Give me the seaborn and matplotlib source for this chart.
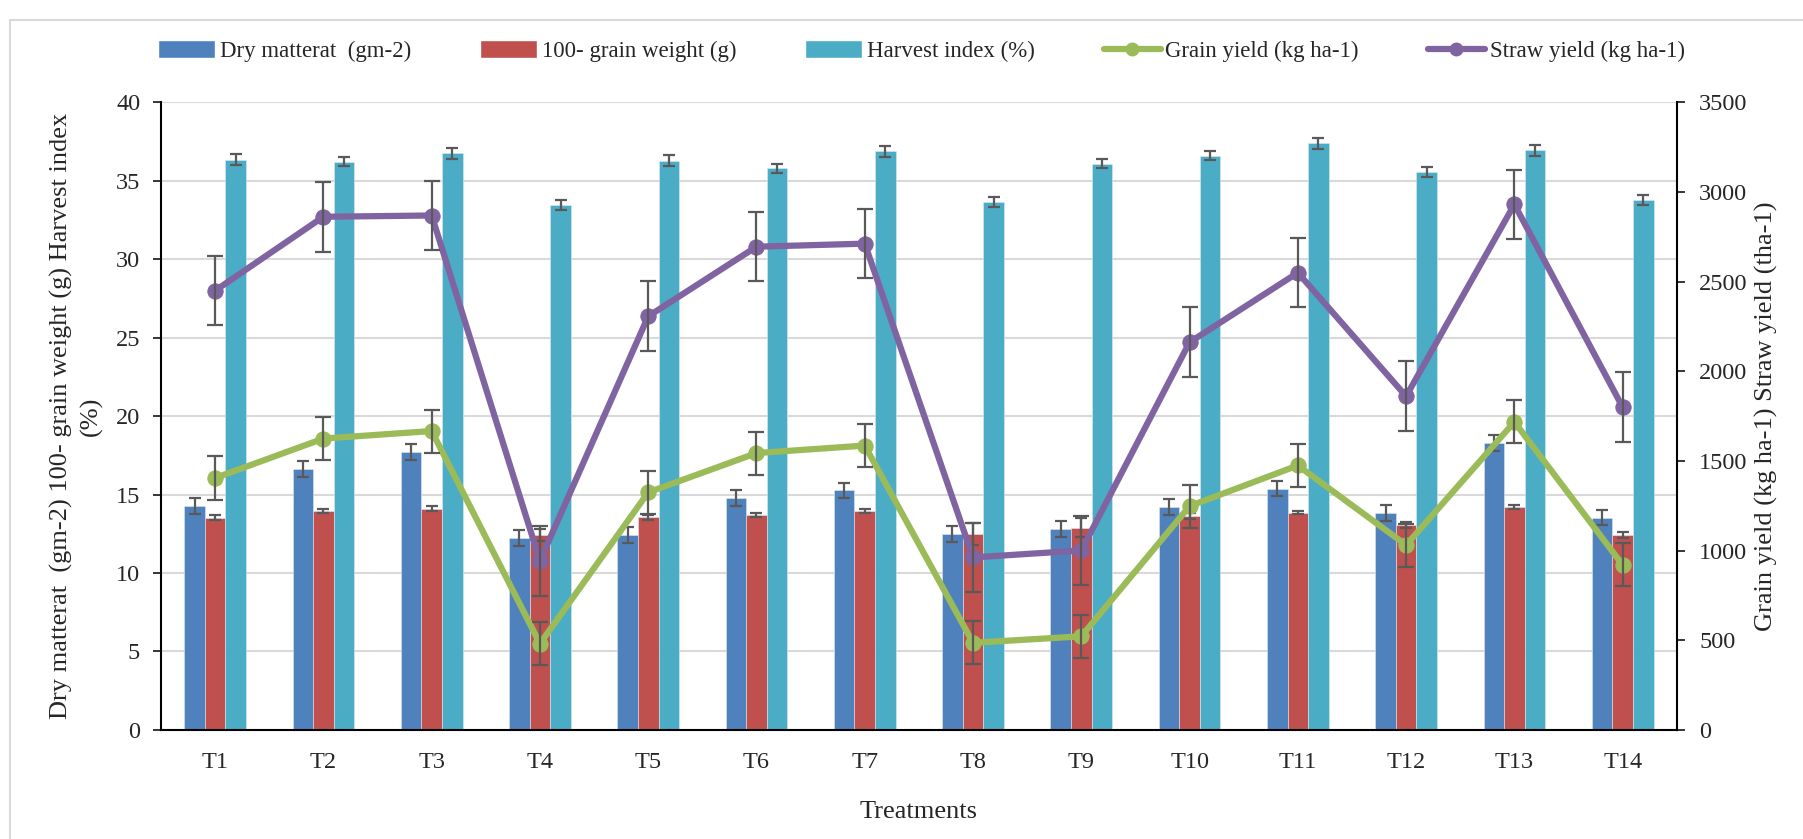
import numpy as np
import pandas as pd
import matplotlib
matplotlib.use("Agg")
import matplotlib.pyplot as plt
import seaborn as sns
from matplotlib.patches import Patch, Rectangle
from matplotlib.lines import Line2D

# values
treatments = ["T1", "T2", "T3", "T4", "T5", "T6", "T7",
              "T8", "T9", "T10", "T11", "T12", "T13", "T14"]
dry_matter = [14.27, 16.64, 17.73, 12.23, 12.42, 14.8, 15.27,
              12.5, 12.81, 14.21, 15.38, 13.82, 18.28, 13.53]
dry_matter_err = [0.5] * 14
grain_weight = [13.53, 13.95, 14.11, 12.42, 13.55, 13.69, 13.95,
                12.5, 12.89, 13.63, 13.84, 13.08, 14.21, 12.42]
grain_weight_err = [0.15, 0.15, 0.15, 0.4, 0.15, 0.15, 0.12,
                    0.7, 0.6, 0.2, 0.1, 0.2, 0.15, 0.2]
harvest_index = [36.35, 36.22, 36.75, 33.47, 36.27, 35.8, 36.88,
                 33.66, 36.1, 36.6, 37.38, 35.56, 36.94, 33.77]
harvest_index_err = [0.35, 0.3, 0.35, 0.3, 0.35, 0.3, 0.35,
                     0.3, 0.3, 0.3, 0.35, 0.3, 0.35, 0.3]
grain_yield = [1405, 1625, 1667, 481, 1325, 1544, 1586,
               486, 522, 1248, 1475, 1031, 1718, 920]
grain_yield_err = [120] * 14
straw_yield = [2450, 2862, 2869, 943, 2307, 2695, 2712,
               962, 1001, 2162, 2550, 1861, 2931, 1800]
straw_yield_err = [194] * 14

bar_names = ["Dry matterat  (gm-2)", "100- grain weight (g)", "Harvest index (%)"]
line_names = ["Grain yield (kg ha-1)", "Straw yield (kg ha-1)"]
colors = ["#4F81BD", "#C0504D", "#4BACC6"]
green, purple = "#9BBB59", "#8064A2"
err_color = "#595959"

df = pd.DataFrame({"Treatment": treatments,
                   bar_names[0]: dry_matter,
                   bar_names[1]: grain_weight,
                   bar_names[2]: harvest_index})
long_df = df.melt(id_vars="Treatment", var_name="variable", value_name="value")

sns.set_style("white")
plt.rcParams["font.family"] = ["Liberation Serif", "DejaVu Serif"]
fs_tick = 17.5
fs_title = 19
fs_leg = 16.5

fig = plt.figure(figsize=(18.03, 8.39), dpi=100)
ax = fig.add_axes([0.0893, 0.130, 0.8407, 0.748])

# outer chart frame
fig.patches.append(Rectangle((0.0055, -0.1), 1.2, 0.1 + 0.976, transform=fig.transFigure,
                             fill=False, edgecolor="#D9D9D9", linewidth=1.5))

sns.barplot(data=long_df, x="Treatment", y="value", hue="variable",
            hue_order=bar_names, palette=colors, errorbar=None, width=0.57,
            saturation=1, ax=ax, legend=False, edgecolor="#dfe8f2", linewidth=0.4)

for cont, errs in zip(ax.containers, [dry_matter_err, grain_weight_err, harvest_index_err]):
    xs = [p.get_x() + p.get_width() / 2 for p in cont]
    ys = [p.get_height() for p in cont]
    ax.errorbar(xs, ys, yerr=errs, fmt="none", ecolor=err_color,
                capsize=4.5, elinewidth=1.6, capthick=1.6, zorder=3)

ax.set_ylim(0, 40)
ax.set_yticks(np.arange(0, 41, 5))
ax.set_xlim(-0.5, 13.5)
ax.set_axisbelow(True)
ax.yaxis.grid(True, color="#D9D9D9", linewidth=1.5)
ax.set_xticks(np.arange(-0.5, 14, 1), minor=True)
ax.tick_params(axis="x", which="major", length=0, pad=16, labelsize=fs_tick)
ax.tick_params(axis="x", which="minor", length=5.5, width=1.5, direction="out")
ax.tick_params(axis="y", length=6, width=1.3, direction="out", labelsize=fs_tick, pad=9)
ax.set_xlabel("Treatments", fontsize=fs_title, labelpad=20)
ax.set_ylabel("Dry matterat  (gm-2) 100- grain weight (g) Harvest index\n(%)",
              fontsize=fs_title, labelpad=9, linespacing=1.4)
for s in ["left", "bottom"]:
    ax.spines[s].set_color("black")
    ax.spines[s].set_linewidth(1.5)
ax.spines["top"].set_visible(False)
ax.spines["right"].set_visible(False)

ax2 = ax.twinx()
x = np.arange(len(treatments))
sns.lineplot(x=x, y=grain_yield, ax=ax2, color=green, linewidth=4.5,
             marker="o", markersize=11, markeredgecolor=green)
sns.lineplot(x=x, y=straw_yield, ax=ax2, color=purple, linewidth=4.5,
             marker="o", markersize=11, markeredgecolor=purple)
ax2.errorbar(x, grain_yield, yerr=grain_yield_err, fmt="none", ecolor=err_color,
             capsize=6, elinewidth=1.6, capthick=1.6, zorder=5)
ax2.errorbar(x, straw_yield, yerr=straw_yield_err, fmt="none", ecolor=err_color,
             capsize=6, elinewidth=1.6, capthick=1.6, zorder=5)
ax2.set_ylim(0, 3500)
ax2.set_yticks(np.arange(0, 3501, 500))
ax2.tick_params(axis="y", length=6, width=1.3, direction="out", labelsize=fs_tick, pad=10)
ax2.set_ylabel("Grain yield (kg ha-1) Straw yield (tha-1)", fontsize=fs_title, labelpad=5)
ax2.spines["right"].set_color("black")
ax2.spines["right"].set_linewidth(1.5)
for s in ["top", "left", "bottom"]:
    ax2.spines[s].set_visible(False)
ax2.set_xlim(-0.5, 13.5)

handles = [Patch(facecolor=c) for c in colors]
handles += [Line2D([0], [0], color=green, linewidth=4.5, marker="o", markersize=9),
            Line2D([0], [0], color=purple, linewidth=4.5, marker="o", markersize=9)]
fig.legend(handles, bar_names + line_names, loc="center", bbox_to_anchor=(0.511, 0.939),
           ncol=5, frameon=False, fontsize=fs_leg, handlelength=2.5, handleheight=0.8,
           columnspacing=3.0, handletextpad=0.2)

fig.savefig("out.png", dpi=100)
